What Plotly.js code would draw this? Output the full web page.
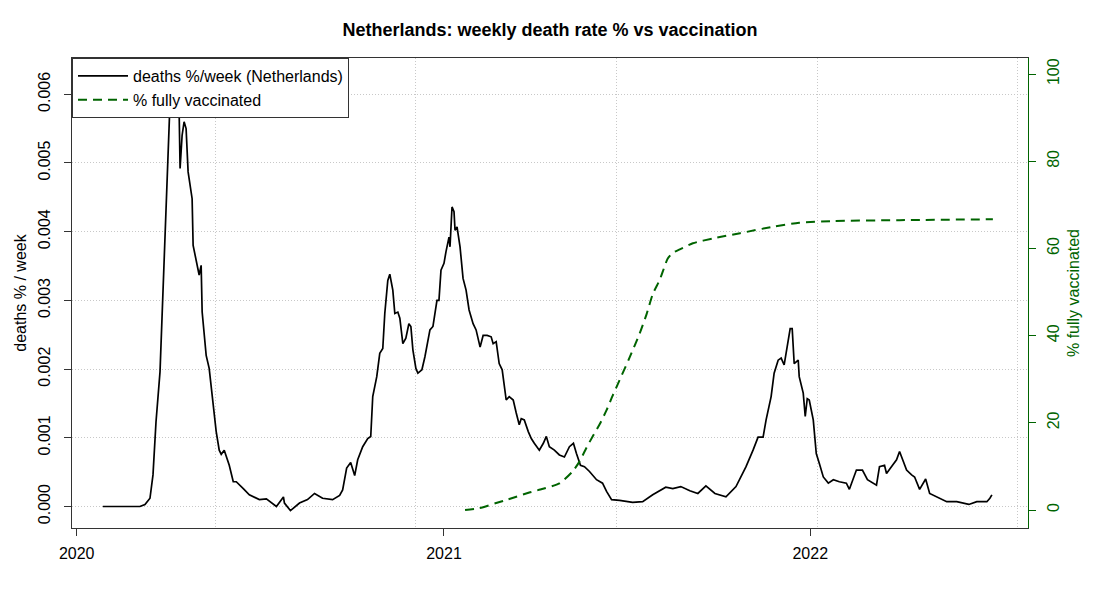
<!DOCTYPE html>
<html>
<head>
<meta charset="utf-8">
<script src="https://cdn.plot.ly/plotly-3.0.1.min.js"></script>
<style>
  html, body { margin: 0; padding: 0; background: #ffffff; }
  #chart { width: 1100px; height: 600px; }
</style>
</head>
<body>
<div id="chart"></div>
<script>
// weekly deaths as % of population
const deathDates = [
  '2020-01-27', '2020-02-15', '2020-03-04', '2020-03-09', '2020-03-14', '2020-03-17', '2020-03-20', '2020-03-24', '2020-03-27', '2020-03-30',
  '2020-04-01', '2020-04-03', '2020-04-06', '2020-04-09', '2020-04-12', '2020-04-13', '2020-04-15', '2020-04-17', '2020-04-19', '2020-04-21', '2020-04-25', '2020-04-26',
  '2020-05-02', '2020-05-04', '2020-05-05', '2020-05-09', '2020-05-12', '2020-05-16', '2020-05-19', '2020-05-22', '2020-05-24', '2020-05-27',
  '2020-06-01', '2020-06-05', '2020-06-08', '2020-06-15', '2020-06-21', '2020-07-01', '2020-07-08', '2020-07-18', '2020-07-25', '2020-07-26',
  '2020-08-01', '2020-08-10', '2020-08-18', '2020-08-25', '2020-09-02', '2020-09-12', '2020-09-19', '2020-09-22', '2020-09-26', '2020-09-30',
  '2020-10-04', '2020-10-07', '2020-10-12', '2020-10-17', '2020-10-20', '2020-10-22', '2020-10-26', '2020-10-29',
  '2020-11-01', '2020-11-03', '2020-11-06', '2020-11-08', '2020-11-11', '2020-11-13', '2020-11-16', '2020-11-18', '2020-11-21', '2020-11-24', '2020-11-27', '2020-11-29',
  '2020-12-01', '2020-12-04', '2020-12-06', '2020-12-10', '2020-12-13', '2020-12-18', '2020-12-21', '2020-12-25', '2020-12-27', '2020-12-29',
  '2021-01-01', '2021-01-03', '2021-01-06', '2021-01-07', '2021-01-09', '2021-01-11', '2021-01-12', '2021-01-14', '2021-01-17', '2021-01-20', '2021-01-23', '2021-01-26', '2021-01-30',
  '2021-02-02', '2021-02-06', '2021-02-09', '2021-02-13', '2021-02-17', '2021-02-19', '2021-02-22', '2021-02-25', '2021-02-28',
  '2021-03-02', '2021-03-04', '2021-03-07', '2021-03-11', '2021-03-14', '2021-03-17', '2021-03-19', '2021-03-22', '2021-03-26', '2021-03-29',
  '2021-04-01', '2021-04-06', '2021-04-10', '2021-04-13', '2021-04-16', '2021-04-21', '2021-04-26',
  '2021-05-01', '2021-05-06', '2021-05-10', '2021-05-13', '2021-05-17', '2021-05-21', '2021-05-26',
  '2021-06-02', '2021-06-08', '2021-06-12', '2021-06-17', '2021-06-25', '2021-07-08', '2021-07-18', '2021-07-28', '2021-08-10',
  '2021-08-17', '2021-08-25', '2021-09-03', '2021-09-11', '2021-09-19', '2021-09-28', '2021-10-09', '2021-10-19', '2021-10-29',
  '2021-11-05', '2021-11-10', '2021-11-15', '2021-11-18', '2021-11-23', '2021-11-26', '2021-11-30',
  '2021-12-03', '2021-12-06', '2021-12-09', '2021-12-12', '2021-12-14', '2021-12-16', '2021-12-20', '2021-12-21', '2021-12-25', '2021-12-27', '2021-12-29', '2021-12-31',
  '2022-01-04', '2022-01-07', '2022-01-10', '2022-01-14', '2022-01-19', '2022-01-24', '2022-01-30', '2022-02-06', '2022-02-09', '2022-02-16', '2022-02-22', '2022-02-27',
  '2022-03-08', '2022-03-11', '2022-03-16', '2022-03-18', '2022-03-24', '2022-03-28', '2022-03-31', '2022-04-03', '2022-04-07', '2022-04-12', '2022-04-15', '2022-04-20', '2022-04-26', '2022-04-30',
  '2022-05-07', '2022-05-17', '2022-05-27', '2022-06-08', '2022-06-16', '2022-06-26', '2022-06-29', '2022-07-01'
]
const deathRate = [
  0, 0, 0, 0.00003, 0.00012, 0.00046, 0.00123, 0.00196, 0.00318, 0.00439,
  0.00536, 0.0059, 0.0062, 0.0063, 0.0058, 0.00492, 0.0054, 0.0056, 0.0055, 0.00487, 0.00448, 0.0038,
  0.00337, 0.00351, 0.00283, 0.0022, 0.00201, 0.00143, 0.00109, 0.00082, 0.00076, 0.00082,
  0.0006, 0.00036, 0.00036, 0.00026, 0.00017, 0.0001, 0.00011, 0, 0.00014, 0.00005,
  -0.00006, 0.00005, 0.0001, 0.00019, 0.00012, 0.0001, 0.00016, 0.00024, 0.00056, 0.00064,
  0.00045, 0.00068, 0.00087, 0.00099, 0.00102, 0.0016, 0.00189, 0.00223,
  0.0023, 0.00281, 0.00329, 0.00338, 0.00315, 0.00281, 0.00283, 0.00274, 0.00237, 0.00245, 0.00266, 0.00262,
  0.00228, 0.00201, 0.00194, 0.00199, 0.00218, 0.00257, 0.00262, 0.003, 0.003, 0.00344,
  0.00354, 0.00371, 0.00392, 0.00378, 0.00436, 0.00429, 0.00402, 0.00407, 0.00378, 0.00332, 0.00315, 0.00286, 0.00266,
  0.00257, 0.00232, 0.00249, 0.00249, 0.00247, 0.00237, 0.0024, 0.00208, 0.00199,
  0.00179, 0.00155, 0.0016, 0.00155, 0.00136, 0.00119, 0.00128, 0.00126, 0.00109, 0.00099,
  0.00092, 0.00082, 0.00092, 0.00102, 0.00087, 0.00082, 0.00075,
  0.00072, 0.00087, 0.00092, 0.00077, 0.0006, 0.00058, 0.00051,
  0.00039, 0.00034, 0.00022, 0.0001, 0.00009, 0.00006, 0.00007, 0.00017, 0.00028,
  0.00026, 0.00029, 0.00023, 0.00019, 0.0003, 0.00019, 0.00014, 0.00029, 0.00058,
  0.00082, 0.00101, 0.00101, 0.00126, 0.0016, 0.00194, 0.00213,
  0.00216, 0.00206, 0.00232, 0.00259, 0.00259, 0.00208, 0.00213, 0.00189, 0.00165, 0.00131, 0.00157, 0.00155,
  0.00126, 0.00077, 0.00063, 0.00043, 0.00034, 0.00039, 0.00036, 0.00034, 0.00025, 0.00053, 0.00053, 0.00039,
  0.00031, 0.00058, 0.0006, 0.00048, 0.0006, 0.00068, 0.0008, 0.00068, 0.00053, 0.00046, 0.00043, 0.00025, 0.0004, 0.00019,
  0.00014, 0.00007, 0.00007, 0.00003, 0.00007, 0.00007, 0.00012, 0.00017
]

// share of people fully vaccinated, %
const vaccDates = [
  '2021-01-22', '2021-02-05', '2021-02-22', '2021-03-04', '2021-03-27', '2021-04-07', '2021-04-26',
  '2021-05-09', '2021-05-16', '2021-05-23', '2021-05-29', '2021-06-05', '2021-06-12', '2021-06-18', '2021-06-25',
  '2021-07-05', '2021-07-15', '2021-07-22', '2021-07-28', '2021-08-04', '2021-08-12', '2021-08-17', '2021-08-24',
  '2021-09-06', '2021-09-26', '2021-10-23', '2021-11-25', '2021-12-21', '2022-01-24', '2022-03-31', '2022-07-02'
]
const vaccPct = [
  0, 0.4, 1.6, 2.3, 4.0, 4.7, 6.1,
  8.8, 11.1, 14.3, 16.8, 19.6, 22.9, 26.2, 29.8,
  35.0, 40.5, 45.0, 49.5, 52.8, 57.7, 59.0, 59.8,
  61.2, 62.3, 63.5, 65.0, 65.9, 66.3, 66.5, 66.7
]

const yearTicks = ['2020-01-01', '2021-01-01', '2022-01-01']
const yearLabels = ['2020', '2021', '2022']
const gridDates = ['2020-05-18', '2020-12-04', '2021-06-22', '2022-01-08', '2022-07-27']
const deathTicks = [0, 0.001, 0.002, 0.003, 0.004, 0.005, 0.006]
const deathTickLabels = ['0.000', '0.001', '0.002', '0.003', '0.004', '0.005', '0.006']
const vaccTicks = [0, 20, 40, 60, 80, 100]

const FONT = '"Liberation Sans", Arial, Helvetica, sans-serif'
const GREEN = '#006400'
const AXIS = '#333333'
const GRID = '#c8c8c8'

const traces = [
  {
    type: 'scatter',
    mode: 'lines',
    name: 'deaths %/week (Netherlands)',
    x: deathDates,
    y: deathRate,
    line: { color: '#000000', width: 1.7 },
    hoverinfo: 'x+y',
  },
  {
    type: 'scatter',
    mode: 'lines',
    name: '% fully vaccinated',
    x: vaccDates,
    y: vaccPct,
    yaxis: 'y2',
    line: { color: GREEN, width: 2, dash: '9px,6px', shape: 'spline', smoothing: 0.6 },
    hoverinfo: 'x+y',
  },
]

const layout = {
  width: 1100,
  height: 600,
  paper_bgcolor: '#ffffff',
  plot_bgcolor: '#ffffff',
  font: { family: FONT, size: 16, color: '#000000' },
  margin: { l: 72, r: 72, t: 58, b: 72, pad: 0 },
  showlegend: true,
  title: {
    text: 'Netherlands: weekly death rate % vs vaccination',
    font: { family: FONT, size: 18, weight: 'bold', color: '#000000' },
    x: 0.5,
    xanchor: 'center',
    y: 1 - 30 / 600,
    yanchor: 'middle',
  },
  xaxis: {
    type: 'date',
    range: ['2019-12-27 07:00', '2022-08-06'],
    tickmode: 'array',
    tickvals: yearTicks,
    ticktext: yearLabels,
    ticks: 'outside',
    ticklen: 7,
    tickwidth: 1,
    tickcolor: AXIS,
    ticklabelstandoff: 4,
    showline: true,
    linecolor: AXIS,
    linewidth: 1,
    mirror: true,
    showgrid: false,
    zeroline: false,
    tickfont: { size: 16 },
    minor: {
      tickmode: 'array',
      tickvals: gridDates,
      ticks: '',
      showgrid: true,
      gridcolor: GRID,
      griddash: '1px,2px',
      gridwidth: 1,
    },
  },
  yaxis: {
    range: [-0.000313, 0.006528],
    tickmode: 'array',
    tickvals: deathTicks,
    ticktext: deathTickLabels,
    tickangle: -90,
    ticks: 'outside',
    ticklen: 7,
    tickcolor: AXIS,
    ticklabelstandoff: 8,
    showline: true,
    linecolor: AXIS,
    mirror: true,
    showgrid: true,
    gridcolor: GRID,
    griddash: '1px,2px',
    zeroline: false,
    tickfont: { size: 16 },
    title: { text: 'deaths % / week', font: { size: 16 }, standoff: 4 },
  },
  yaxis2: {
    overlaying: 'y',
    side: 'right',
    anchor: 'x',
    range: [-4.13, 103.7],
    tickmode: 'array',
    tickvals: vaccTicks,
    tickangle: -90,
    ticks: 'outside',
    ticklen: 7,
    tickcolor: GREEN,
    ticklabelstandoff: 4,
    showline: true,
    linecolor: GREEN,
    showgrid: false,
    zeroline: false,
    tickfont: { size: 16, color: GREEN },
    title: { text: '% fully vaccinated', font: { size: 16, color: GREEN }, standoff: 6 },
  },
  legend: {
    x: 0,
    y: 1,
    xanchor: 'left',
    yanchor: 'top',
    bgcolor: '#ffffff',
    bordercolor: AXIS,
    borderwidth: 1,
    font: { size: 16 },
    itemwidth: 50,
    tracegroupgap: 0,
  },
}

const config = {
  staticPlot: true,
  displayModeBar: false,
  responsive: false,
}

Plotly.newPlot('chart', traces, layout, config)
</script>
</body>
</html>
